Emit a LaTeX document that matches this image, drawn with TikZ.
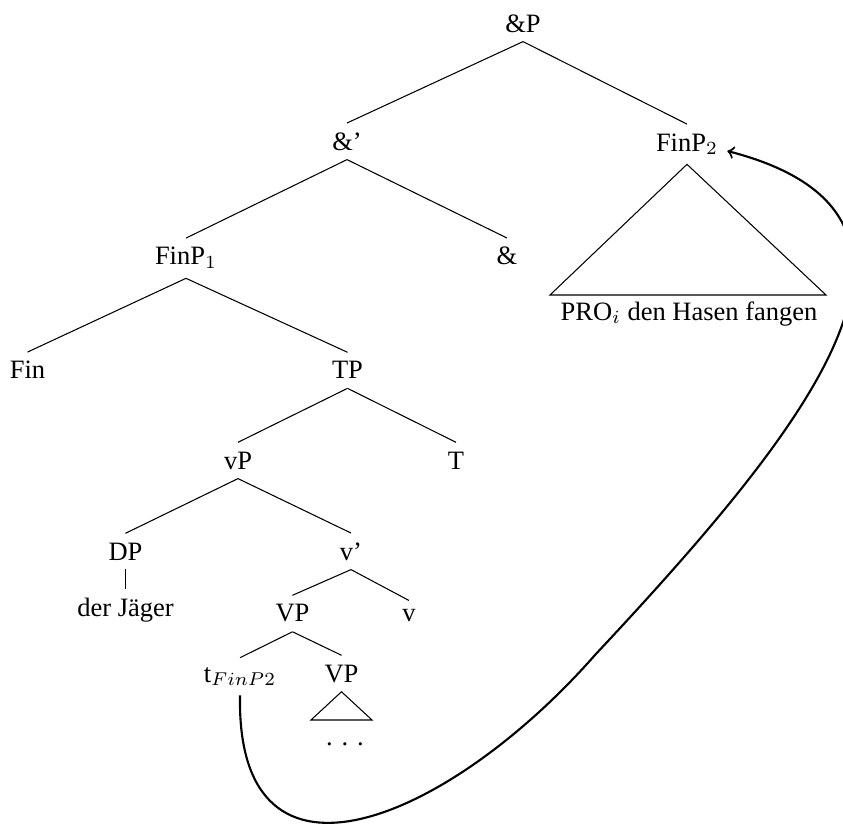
\documentclass[tikz,border=0pt]{standalone}
\usepackage{fontspec}
\setmainfont{Liberation Serif}
\begin{document}
\begin{tikzpicture}[x=0.3774pt,y=-0.3774pt,
  lbl/.style={anchor=base,inner sep=3.33pt},
  treeline/.style={line width=0.4pt},
  movement/.style={->,thick}]
\useasboundingbox (0,0) rectangle (843,827);
% nodes
\node[lbl] (andP)   at (523,32)   {\&P};
\node[lbl] (andbar) at (347,150)  {\&'};
\node[lbl] (finp2)  at (687,151)  {FinP$_2$};
\node[lbl] (finp1)  at (186,265)  {FinP$_1$};
\node[lbl] (andh)   at (507,265)  {\&};
\node[lbl] (fin)    at (27.5,379) {Fin};
\node[lbl] (tp)     at (347.5,379){TP};
\node[lbl] (vp)     at (238,469)  {vP};
\node[lbl] (th)     at (456,469)  {T};
\node[lbl] (dp)     at (125.5,560){DP};
\node[lbl] (vbar)   at (351,560)  {v'};
\node[lbl] (jaeger) at (125.5,617){der Jäger};
\node[lbl] (vp2)    at (292.5,622){VP};
\node[lbl] (vh)     at (409,622)  {v};
\node[lbl] (tfin)   at (240,682)  {t$_{FinP2}$};
\node[lbl] (vp3)    at (341.5,682){VP};
\node[lbl] (dots)   at (345,745)  {. . .};
\node[lbl] (pro)    at (689,320)  {PRO$_i$ den Hasen fangen};
\coordinate (proL) at (550,295);
\coordinate (proR) at (826,295);
\coordinate (dotL) at (311,720);
\coordinate (dotR) at (372,720);
% tree edges
\draw[treeline] (andP.south) -- (andbar.north);
\draw[treeline] (andP.south) -- (finp2.north);
\draw[treeline] (andbar.south) -- (finp1.north);
\draw[treeline] (andbar.south) -- (andh.north);
\draw[treeline] (finp1.south) -- (fin.north);
\draw[treeline] (finp1.south) -- (tp.north);
\draw[treeline] (tp.south) -- (vp.north);
\draw[treeline] (tp.south) -- (th.north);
\draw[treeline] (vp.south) -- (dp.north);
\draw[treeline] (vp.south) -- (vbar.north);
\draw[treeline] (dp.south) -- (jaeger.north);
\draw[treeline] (vbar.south) -- (vp2.north);
\draw[treeline] (vbar.south) -- (vh.north);
\draw[treeline] (vp2.south) -- (tfin.north);
\draw[treeline] (vp2.south) -- (vp3.north);
% roofs
\draw[treeline] (finp2.south) -- (proL) -- (proR) -- cycle;
\draw[treeline] (vp3.south) -- (dotL) -- (dotR) -- cycle;
% movement arrow
\draw[movement] (tfin.south) .. controls (236,913) and (450,820) .. (595,655)
  .. controls (815,420) and (975,215) .. (finp2.base east);
\end{tikzpicture}
\end{document}
